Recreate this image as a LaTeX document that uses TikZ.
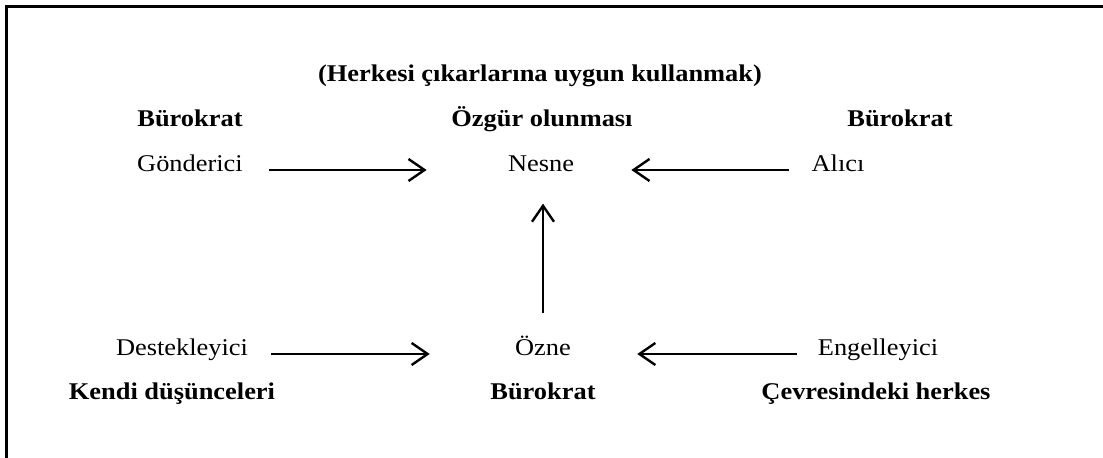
\documentclass[tikz,border=0pt]{standalone}
\usepackage{fontspec}
\setmainfont[FakeStretch=1.1]{Liberation Serif}
\usetikzlibrary{arrows.meta}

\tikzstyle{actant}=[inner sep=0pt,
    anchor=base,
    font=\fontsize{12}{14}\selectfont]
\tikzstyle{actantbold}=[actant,
    font=\fontsize{12}{14}\selectfont\bfseries]
\tikzstyle{arr}=[line width=1.2pt,
    -{Straight Barb[length=8pt,width=11pt,line width=1.2pt]}]

\begin{document}
\begin{tikzpicture}[x=0.5pt,y=-0.5pt]
                \useasboundingbox (0,0) rectangle (1103,458);
                \draw[line width=1.5pt] (1103,6.5) -- (6.5,6.5) -- (6.5,458);
                % ust satir
                \node[actantbold] (amac) at (540,82) {(Herkesi çıkarlarına uygun kullanmak)};
                \node[actantbold] (gondbur) at (190,127) {Bürokrat};
                \node[actantbold] (nesneozg) at (542,127) {Özgür olunması};
                \node[actantbold] (alicibur) at (900,127) {Bürokrat};
                \node[actant] (gonderici) at (190,172) {Gönderici};
                \node[actant] (nesne) at (541,172) {Nesne};
                \node[actant] (alici) at (838,172) {Alıcı};
                % alt satir
                \node[actant] (destek) at (182,356) {Destekleyici};
                \node[actant] (ozne) at (543,356) {Özne};
                \node[actant] (engel) at (878,356) {Engelleyici};
                \node[actantbold] (destekdus) at (172,400) {Kendi düşünceleri};
                \node[actantbold] (oznebur) at (543,400) {Bürokrat};
                \node[actantbold] (engelher) at (876,400) {Çevresindeki herkes};
                \draw [arr,shorten <=13pt,shorten >=40.5pt] ([yshift=1pt]gonderici.base east) -- ([yshift=1pt]nesne.base west);
                \draw [arr,shorten <=11pt,shorten >=28.5pt] ([yshift=1pt]alici.base west) -- ([yshift=1pt]nesne.base east);
                \draw [arr,shorten <=11.5pt,shorten >=15.5pt] (ozne.north) -- (ozne.north |- nesne.south);
                \draw [arr,shorten <=11.5pt,shorten >=42.5pt] ([yshift=1pt]destek.base east) -- ([yshift=1pt]ozne.base west);
                \draw [arr,shorten <=10.5pt,shorten >=33pt] ([yshift=1pt]engel.base west) -- ([yshift=1pt]ozne.base east);
            \end{tikzpicture}
\end{document}
